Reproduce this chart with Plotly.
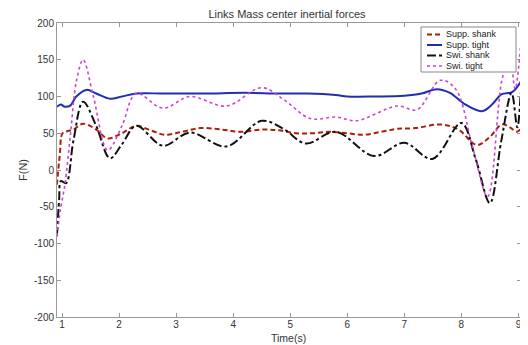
import plotly.graph_objects as go

# Supp. shank (red dashed)
t_supp_shank = [0.91, 0.96, 1.01, 1.1, 1.2, 1.37, 1.6, 1.8, 2.05, 2.3, 2.55, 2.8, 3.1, 3.42, 3.8, 4.12, 4.5, 4.8, 5.1, 5.4, 5.7, 6.0, 6.29, 6.6, 6.87, 7.2, 7.64, 7.95, 8.27, 8.5, 8.71, 8.85, 8.97, 9.04]
f_supp_shank = [-20, 20, 50, 53, 55, 63, 55, 43, 50, 60, 54, 48, 52, 57, 55, 52, 55, 54, 50, 50, 52, 50, 48, 52, 56, 57, 62, 55, 34, 45, 62, 58, 52, 56]

# Supp. tight (blue solid)
t_supp_tight = [0.91, 0.98, 1.05, 1.15, 1.25, 1.43, 1.6, 1.84, 2.05, 2.3, 2.8, 3.5, 4.2, 4.8, 5.3, 5.8, 6.0, 6.5, 7.0, 7.3, 7.57, 7.8, 8.05, 8.36, 8.55, 8.7, 8.89, 9.04]
f_supp_tight = [86, 89, 86, 88, 100, 109, 104, 97, 100, 104, 104, 104, 105, 104, 104, 102, 100, 100, 101, 104, 110, 105, 90, 80, 90, 103, 106, 120]

# Swi. shank (black dash-dot)
t_swi_shank = [0.91, 0.95, 0.98, 1.07, 1.2, 1.37, 1.6, 1.84, 2.05, 2.3, 2.77, 3.24, 3.88, 4.5, 4.9, 5.27, 5.8, 6.47, 7.0, 7.49, 8.0, 8.25, 8.5, 8.7, 8.88, 8.98, 9.04]
f_swi_shank = [-90, -40, -15, -18, 40, 93, 60, 16, 35, 60, 33, 51, 32, 67, 55, 36, 52, 19, 37, 15, 64, 15, -45, 40, 105, 58, 105]

# Swi. tight (magenta dotted)
t_swi_tight = [0.91, 0.97, 1.05, 1.15, 1.25, 1.37, 1.55, 1.8, 2.05, 2.3, 2.77, 3.24, 3.88, 4.5, 4.9, 5.35, 5.81, 6.16, 6.87, 7.22, 7.63, 7.9, 8.2, 8.46, 8.71, 8.85, 8.94, 9.04]
f_swi_tight = [-90, -55, -20, 50, 120, 150, 100, 27, 60, 104, 84, 100, 87, 112, 95, 70, 72, 67, 87, 82, 122, 110, 30, -36, 122, 155, 110, 170]

x_ticks = [1, 2, 3, 4, 5, 6, 7, 8, 9]
y_ticks = [-200, -150, -100, -50, 0, 50, 100, 150, 200]
y_tick_text = ["-200", "-150", "-100", "-50", "0", "50", "100", "150", "200"]

series_names = ["Supp. shank", "Supp. tight", "Swi. shank", "Swi. tight"]
series_colors = ["#b01e08", "#1f2fb0", "#111111", "#cc44cc"]
series_dash = ["5px,3px", "solid", "dashdot", "dot"]
series_width = [2, 2, 2, 1.6]
series_t = [t_supp_shank, t_supp_tight, t_swi_shank, t_swi_tight]
series_f = [f_supp_shank, f_supp_tight, f_swi_shank, f_swi_tight]

# the page body has an 8px margin: the figure starts at (8, 8) in the window
OFF = 8
WIN_W, WIN_H = 528, 345
W, H = WIN_W - OFF, WIN_H - OFF
# plot area in window pixels: x 57..521, y 23..317
ML, MR, MT, MB = 57 - OFF, WIN_W - 521, 23 - OFF, WIN_H - 317
PW, PH = W - ML - MR, H - MT - MB

def px_x(px):  # window pixel -> paper x
    return (px - OFF - ML) / PW

def px_y(py):  # window pixel -> paper y
    return (H - MB - (py - OFF)) / PH

fig = go.Figure()
for name, t, f, c, d, w in zip(series_names, series_t, series_f, series_colors, series_dash, series_width):
    fig.add_trace(go.Scatter(x=t, y=f, name=name, mode="lines", showlegend=False,
                             line=dict(color=c, width=w, dash=d, shape="spline", smoothing=1.0)))

axis_common = dict(showline=True, mirror="ticks", linecolor="#999999", linewidth=1,
                   ticks="inside", ticklen=4, tickcolor="#999999", showgrid=False, zeroline=False,
                   automargin=False, tickfont=dict(size=10, color="#333333"))
fig.update_xaxes(range=[0.912, 9.045], tickvals=x_ticks, ticklabelstandoff=-2, **axis_common)
fig.update_yaxes(range=[-200, 200], tickvals=y_ticks, ticktext=y_tick_text, **axis_common)

# manual legend (box, line samples, labels)
row_y = [34.5, 45, 55.5, 66]
shapes = [dict(type="rect", xref="paper", yref="paper", x0=px_x(421), x1=px_x(516), y0=px_y(72), y1=px_y(27),
               line=dict(color="#888888", width=1), fillcolor="white", layer="above")]
annotations = []
for name, c, d, w, ry in zip(series_names, series_colors, series_dash, series_width, row_y):
    shapes.append(dict(type="line", xref="paper", yref="paper", x0=px_x(427), x1=px_x(442),
                       y0=px_y(ry), y1=px_y(ry), line=dict(color=c, width=w, dash=d), layer="above"))
    annotations.append(dict(text=name, xref="paper", yref="paper", x=px_x(445), y=px_y(ry),
                            xanchor="left", yanchor="middle", showarrow=False, borderpad=0,
                            font=dict(size=9, color="#222222")))

annotations.append(dict(text="Time(s)", xref="paper", yref="paper", x=px_x(288), y=px_y(338),
                        xanchor="center", yanchor="middle", showarrow=False, borderpad=0,
                        font=dict(size=10.5, color="#333333")))
annotations.append(dict(text="F(N)", xref="paper", yref="paper", x=px_x(23), y=px_y(170),
                        xanchor="center", yanchor="middle", showarrow=False, textangle=-90,
                        font=dict(size=11, color="#333333")))

fig.update_layout(
    width=W, height=H,
    margin=dict(l=ML, r=MR, t=MT, b=MB),
    paper_bgcolor="white", plot_bgcolor="white",
    font=dict(family="Liberation Sans, Arial, sans-serif", color="#333333"),
    title=dict(text="Links Mass center inertial forces", x=(287 - OFF) / W, xanchor="center",
               y=1 - (14 - OFF) / H, yanchor="middle", font=dict(size=11, color="#333333")),
    showlegend=False,
    shapes=shapes,
    annotations=annotations,
)

fig.write_html("out.html")
